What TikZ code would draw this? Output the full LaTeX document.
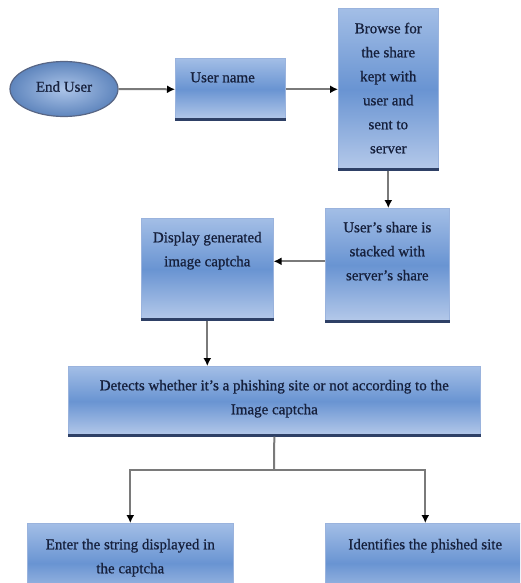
\documentclass[tikz,border=0pt]{standalone}
\usepackage{fontspec}
\setmainfont{Liberation Serif}[FakeBold=0.8]
\usetikzlibrary{arrows.meta,shapes.geometric}
\definecolor{bxtop}{HTML}{A3BEE6}
\definecolor{bxmid}{HTML}{6994D2}
\definecolor{bxbot}{HTML}{B6CAEA}
\definecolor{bxedge}{HTML}{2E4066}
\definecolor{bxline}{HTML}{9AB3DD}
\definecolor{txt}{HTML}{16203C}
\definecolor{conncol}{HTML}{7A7A7A}
\newcommand\bxtext[5]{\begin{minipage}[t][#2][t]{#1}#5\fontsize{15}{24}\selectfont\rule{0pt}{#3}#4\end{minipage}}
\tikzset{
  box/.style={draw=bxline, line width=0.6pt, anchor=north west, inner sep=0pt,
    top color=bxtop, bottom color=bxbot, middle color=bxmid, text=txt},
  oval/.style={ellipse, draw=bxedge!80, line width=1.2pt, inner color=bxtop!90, outer color=bxmid!90!black,
    minimum width=108pt, minimum height=55pt, text=txt, font=\fontsize{15}{18}\selectfont},
  edge/.style={bxedge, line width=3pt},
  conn/.style={conncol, line width=2pt, -{Latex[color=black,length=8pt,width=8pt]}},
  plain/.style={conncol, line width=2pt}
}
\begin{document}
\begin{tikzpicture}[x=1pt,y=-1pt]
\useasboundingbox (0,0) rectangle (520,583);
\clip (0,0) rectangle (520,583);
\fill[white] (0,0) rectangle (520,583);

\node[oval] (eu) at (64,89) {\raisebox{5pt}{End User}};

\node[box] (un) at (175,58) {\bxtext{110pt}{62pt}{24pt}{\hspace*{15pt}User name}{\raggedright}};
\node[box] (br) at (338,8) {\bxtext{100pt}{162pt}{25pt}{Browse for\\the share\\kept with\\user and\\sent to\\server}{\centering}};
\node[box] (sh) at (325,208) {\bxtext{124pt}{114pt}{24pt}{User’s share is\\stacked with\\server’s share}{\centering}};
\node[box] (dp) at (141,218) {\bxtext{132pt}{102pt}{24pt}{Display generated\\image captcha}{\centering}};
\node[box] (dt) at (68,366) {\bxtext{412pt}{70pt}{24pt}{Detects whether it’s a phishing site or not according to the\\Image captcha}{\centering}};
\node[box] (en) at (27,523) {\bxtext{206pt}{80pt}{26pt}{Enter the string displayed in\\the captcha}{\centering}};
\node[box] (id) at (325,523) {\bxtext{200pt}{80pt}{26pt}{Identifies the phished site}{\centering}};

\foreach \n in {un,br,sh,dp,dt}{
  \draw[edge] ([yshift=1.5pt]\n.south west) -- ([yshift=1.5pt]\n.south east);
}

\draw[conn] (eu.east) -- (un.west);
\draw[conn] (un.east) -- (br.west);
\draw[conn] (br.south) -- (br.south |- sh.north);
\draw[conn] ([yshift=4pt]sh.west) -- ([yshift=4pt]sh.west -| dp.east);
\draw[conn] (dp.south) -- (dp.south |- dt.north);
\coordinate (sp) at (274,470);
\draw[plain] (dt.south) -- (sp);
\draw[conn] (sp) -| (en.north);
\draw[conn] (sp) -| (id.north);
\end{tikzpicture}
\end{document}
